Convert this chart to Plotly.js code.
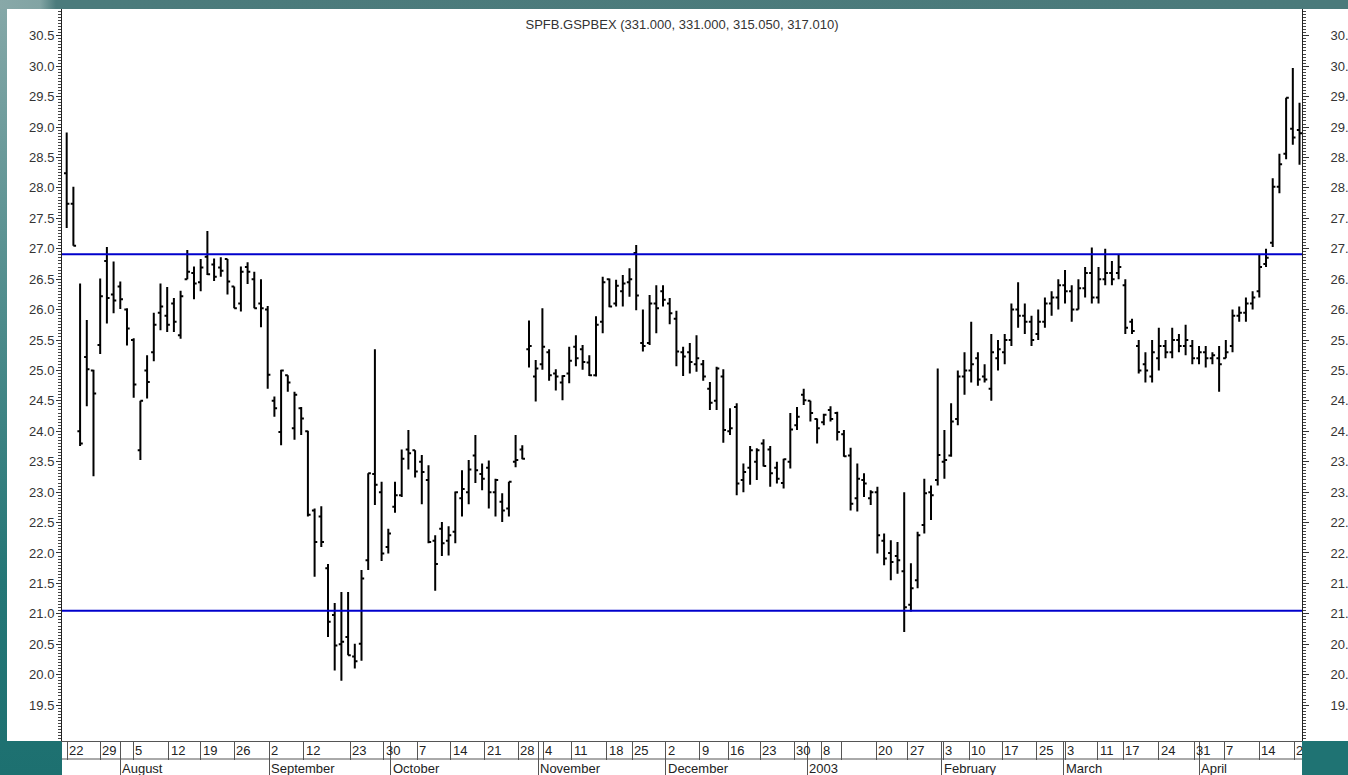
<!DOCTYPE html>
<html>
<head>
<meta charset="utf-8">
<script src="https://cdn.plot.ly/plotly-3.0.1.min.js"></script>
<style>
html, body { margin:0; padding:0; overflow:hidden; width:1348px; height:775px; }
body { position:relative; background: linear-gradient(180deg, #86a8a8 0%, #4f8c8c 40%, #247676 75%, #1d7070 100%); }
#topband { position:absolute; left:0; top:0; width:1348px; height:9px; background: linear-gradient(90deg, #88a8a8 0px, #82a4a4 40px, #4c7b7c 56px, #4b7a7b 100%); }
#white1 { position:absolute; left:7px; top:9px; width:1341px; height:732px; background:#fff; }
#white2 { position:absolute; left:62px; top:741px; width:1240px; height:34px; background:#fff; }
#chart { position:absolute; left:0; top:0; width:1348px; height:775px; }
#cornerR { position:absolute; left:1302px; top:741px; width:46px; height:34px; background:#1f7373; z-index:10; }
</style>
</head>
<body>
<div id="topband"></div>
<div id="white1"></div>
<div id="white2"></div>
<div id="chart"></div>
<div id="cornerR"></div>
<script>
// Trading-day index for each bar
const openV = [28.24,27.74,24.0,25.22,25.0,25.42,26.8,26.25,26.38,26.0,
25.5,23.69,25.0,25.3,25.95,25.9,26.1,25.58,26.5,26.6,
26.45,26.87,26.74,26.69,26.83,26.38,26.1,26.7,26.5,26.1,
26.0,24.5,23.99,24.92,24.05,24.38,24.0,22.7,22.6,21.75,
20.98,20.5,20.62,20.3,20.51,21.88,23.3,23.0,22.1,22.76,
22.95,23.7,23.69,23.5,23.2,22.2,22.4,22.2,22.35,22.9,
23.0,23.6,23.3,23.4,23.0,22.84,22.73,23.5,23.7,25.35,
24.9,25.1,25.3,24.95,24.8,24.95,25.39,25.35,25.13,24.92,
25.8,26.5,26.1,26.3,26.45,26.93,25.45,25.45,26.1,26.3,
26.1,25.85,25.3,25.3,25.1,25.1,24.7,24.5,24.9,24.0,
24.4,23.2,23.4,23.5,23.8,23.7,23.4,23.15,23.5,24.1,
24.6,24.5,24.2,24.15,24.35,24.3,23.95,23.6,22.9,23.2,
22.9,23.0,22.2,22.0,21.95,21.7,21.15,21.55,22.46,23.0,
23.2,23.5,23.6,24.2,24.9,25.0,25.2,24.9,24.7,25.2,
25.3,25.5,26.0,25.9,25.8,25.6,25.8,26.1,26.2,26.4,
26.3,26.0,26.35,26.6,26.2,26.5,26.6,26.6,26.4,25.8,
25.4,25.1,24.9,25.2,25.4,25.3,25.5,25.4,25.4,25.2,
25.3,25.2,25.2,25.2,25.4,25.9,25.95,26.1,26.3,26.75,
27.1,28.02,28.56,28.97,28.95];
const highV = [28.91,28.02,26.43,25.83,25.01,26.51,27.03,26.79,26.46,26.02,
25.53,24.5,25.25,25.95,26.43,26.37,26.19,26.31,26.98,26.71,
26.83,27.29,26.84,26.86,26.83,26.38,26.71,26.78,26.62,26.5,
26.06,24.57,25.01,24.92,24.65,24.4,24.01,22.73,22.77,21.82,
21.18,21.36,21.36,20.51,21.72,23.31,25.35,23.17,22.4,23.17,
23.7,24.02,23.69,23.61,23.44,22.29,22.51,22.44,23.01,23.36,
23.53,23.94,23.47,23.52,23.22,22.98,23.17,23.94,23.77,25.82,
25.17,26.02,25.35,25.02,24.92,25.39,25.58,25.42,25.25,25.89,
26.54,26.51,26.49,26.57,26.68,27.06,26.0,26.24,26.4,26.4,
26.19,25.98,25.39,25.45,25.58,25.17,24.81,25.06,25.02,24.38,
24.46,23.47,23.76,23.72,23.87,23.76,23.5,23.55,24.3,24.4,
24.7,24.5,24.21,24.29,24.41,24.32,24.02,23.73,23.47,23.31,
23.03,23.09,22.32,22.21,22.18,23.0,21.83,22.35,23.22,23.11,
25.03,24.02,24.46,25.0,25.3,25.8,25.3,25.1,25.6,25.5,
25.6,26.1,26.45,26.1,25.9,26.0,26.2,26.3,26.5,26.65,
26.4,26.5,26.7,27.02,26.7,27.0,26.8,26.9,26.5,25.85,
25.5,25.3,25.5,25.7,25.5,25.7,25.6,25.75,25.5,25.4,
25.4,25.3,25.4,25.5,26.0,26.05,26.2,26.3,26.9,27.0,
28.16,28.56,29.48,29.97,29.4];
const lowV = [27.34,27.05,23.76,24.41,23.26,25.27,25.77,25.94,26.01,25.41,
24.55,23.53,24.54,25.15,25.66,25.63,25.63,25.52,26.5,26.17,
26.3,26.57,26.47,26.54,26.25,26.02,25.97,26.42,26.02,25.71,
24.7,24.24,23.77,24.65,23.86,23.94,22.6,21.61,22.1,20.62,
20.07,19.9,20.32,20.1,20.23,21.72,22.79,21.87,21.99,22.66,
22.92,23.37,23.24,22.8,22.16,21.38,21.95,21.96,22.16,22.6,
22.8,23.15,23.03,22.73,22.6,22.51,22.6,23.41,23.54,25.05,
24.49,25.01,24.83,24.67,24.51,24.79,25.07,25.01,24.91,24.9,
25.61,26.04,26.05,26.05,26.21,25.99,25.31,25.42,25.61,26.05,
25.76,25.07,24.91,24.95,24.98,24.83,24.35,24.35,23.81,23.94,
22.95,23.0,23.12,23.2,23.42,23.09,23.14,23.06,23.39,24.02,
24.43,24.16,23.8,24.1,24.16,23.85,23.58,22.7,22.68,22.92,
22.79,21.99,21.8,21.55,21.66,20.7,21.04,21.42,22.32,22.54,
23.11,23.22,23.58,24.1,24.6,24.8,24.75,24.8,24.5,25.0,
25.1,25.4,25.7,25.6,25.4,25.5,25.7,25.9,26.0,26.1,
25.8,26.0,26.2,26.1,26.1,26.4,26.4,26.5,25.6,25.6,
24.95,24.8,24.8,25.0,25.2,25.2,25.3,25.25,25.1,25.1,
25.05,25.1,24.65,25.2,25.3,25.8,25.8,26.0,26.2,26.7,
27.03,27.91,28.47,28.71,28.38];
const closeV = [27.74,27.05,23.8,25.02,24.62,26.22,26.19,26.15,26.17,25.69,
24.77,24.5,24.81,25.75,26.05,25.75,25.8,26.22,26.62,26.43,
26.69,26.58,26.54,26.64,26.46,26.02,26.62,26.62,26.02,26.02,
24.93,24.38,25.0,24.8,24.6,24.21,22.63,22.18,22.18,20.87,
20.48,20.54,20.32,20.22,21.58,23.31,23.12,21.99,22.32,22.95,
23.55,23.64,23.34,23.33,22.18,21.82,22.16,22.29,23.0,23.05,
23.37,23.36,23.22,23.0,23.2,22.7,23.17,23.53,23.55,25.4,
25.03,25.39,24.92,24.9,24.91,25.16,25.2,25.14,24.92,25.75,
26.45,26.05,26.39,26.43,26.5,26.23,25.4,26.1,26.02,26.16,
25.94,25.31,25.23,25.14,25.2,24.9,24.47,25.03,24.02,24.05,
23.14,23.33,23.69,23.69,23.43,23.31,23.22,23.54,24.03,24.24,
24.51,24.3,24.05,24.27,24.2,23.99,23.59,22.81,23.22,23.14,
23.0,22.29,21.91,21.85,21.88,21.11,21.42,22.29,22.98,22.95,
23.61,23.53,24.16,24.9,25.0,25.1,24.85,24.85,25.3,25.35,
25.5,26.0,25.9,25.8,25.5,25.8,26.1,26.2,26.4,26.3,
26.0,26.35,26.6,26.2,26.5,26.6,26.5,26.7,25.7,25.65,
25.0,25.0,25.3,25.4,25.3,25.5,25.4,25.5,25.2,25.3,
25.2,25.25,25.1,25.3,25.9,25.95,26.1,26.2,26.7,26.85,
28.02,28.39,29.48,28.83,28.9];
const barIndex = openV.map((_, i) => i);

// Horizontal support / resistance levels
const levels = [26.91, 21.05];

// Price axis labels
const yTicks = [19.5,20.0,20.5,21.0,21.5,22.0,22.5,23.0,23.5,24.0,24.5,25.0,25.5,26.0,26.5,27.0,27.5,28.0,28.5,29.0,29.5,30.0,30.5];

// Bottom axis: day separators (bar index) and labels
const daySep = [0.1,5.0,9.9,15.2,20.0,25.0,30.2,35.4,42.3,47.3,52.3,57.3,62.4,67.4,71.1,75.4,80.6,84.4,89.4,94.5,98.7,103.5,108.6,112.6,115.6,120.8,125.5,130.8,134.7,139.6,144.8,149.0,153.9,157.7,163.0,168.3,172.8,178.0,183.2];
const dayLabels = ["22","29","5","12","19","26","2","12","23","30","7","14","21","28","4","11","18","25","2","9","16","23","30","8","","20","27","3","10","17","25","3","11","17","24","31","7","14","21"];
const monthSep = [8.0,30.2,48.4,70.4,89.4,110.5,130.6,148.8,169.0];
const monthLabels = ["August","September","October","November","December","2003","February","March","April"];

const titleText = "SPFB.GSPBEX (331.000, 331.000, 315.050, 317.010)";
const FONT = "Liberation Sans, Arial, sans-serif";
const xRange = [-0.7, 184.37];
const yRange = [18.91, 30.94];
const plotH = 732;

const traces = [
  {
    type: 'ohlc', x: barIndex, open: openV, high: highV, low: lowV, close: closeV,
    increasing: {line: {color: '#000', width: 2}},
    decreasing: {line: {color: '#000', width: 2}},
    tickwidth: 0.4, hoverinfo: 'skip', showlegend: false
  },
  {
    type: 'scatter', x: [0], y: [25], xaxis: 'x2', yaxis: 'y2', mode: 'markers',
    marker: {opacity: 0}, hoverinfo: 'skip', showlegend: false
  }
];

const yCommon = {
  range: yRange, tickmode: 'array', tickvals: yTicks, ticktext: yTicks.map(v => v.toFixed(1)),
  ticks: 'outside', ticklen: 5, tickcolor: '#333', tickwidth: 1,
  showline: true, linecolor: '#222', linewidth: 1,
  showgrid: false, zeroline: false, fixedrange: true,
  tickfont: {family: FONT, size: 13, color: '#333'},
  minor: {tick0: 0, dtick: 0.05, ticks: 'outside', ticklen: 3, tickcolor: '#444', tickwidth: 1, showgrid: false}
};

const annotations = [];
daySep.forEach((v, i) => {
  if (dayLabels[i] === "") return;
  annotations.push({
    x: v, xref: 'x', y: 0, yref: 'paper', xanchor: 'left', yanchor: 'top',
    xshift: 0, yshift: 0, text: dayLabels[i], showarrow: false,
    font: {family: FONT, size: 13, color: '#222'}
  });
});
monthSep.forEach((v, i) => {
  annotations.push({
    x: v, xref: 'x', y: 0, yref: 'paper', xanchor: 'left', yanchor: 'top',
    xshift: 0, yshift: -18, text: monthLabels[i], showarrow: false,
    font: {family: FONT, size: 13, color: '#222'}
  });
});

const shapes = levels.map(l => ({
  type: 'line', xref: 'paper', x0: 0, x1: 1, yref: 'y', y0: l, y1: l,
  line: {color: '#0000cc', width: 2}, layer: 'above'
}));
shapes.push({
  type: 'line', xref: 'paper', x0: 0, x1: 1, yref: 'paper', y0: -18 / plotH, y1: -18 / plotH,
  line: {color: '#555', width: 1}
});

const layout = {
  width: 1348, height: 775,
  margin: {l: 62, r: 46, t: 9, b: 34, pad: 0},
  paper_bgcolor: 'rgba(0,0,0,0)', plot_bgcolor: '#fff',
  showlegend: false,
  title: {
    text: titleText, x: 0.5, xref: 'paper', xanchor: 'center',
    y: 1 - 24 / 775, yref: 'container', yanchor: 'middle',
    font: {family: FONT, size: 13, color: '#333'}
  },
  xaxis: {
    range: xRange, showline: true, linecolor: '#555', linewidth: 1,
    tickmode: 'array', tickvals: daySep, ticks: 'outside', ticklen: 18,
    tickcolor: '#555', tickwidth: 1, showticklabels: false,
    showgrid: false, zeroline: false, fixedrange: true,
    rangeslider: {visible: false}
  },
  xaxis2: {
    overlaying: 'x', anchor: 'y', side: 'bottom', range: xRange,
    tickmode: 'array', tickvals: monthSep, ticks: 'outside', ticklen: 34,
    tickcolor: '#555', tickwidth: 1, showticklabels: false,
    showgrid: false, zeroline: false, showline: false, fixedrange: true
  },
  yaxis: Object.assign({}, yCommon, {side: 'left', anchor: 'x', ticklabelstandoff: -1}),
  yaxis2: Object.assign({}, yCommon, {side: 'right', anchor: 'x', overlaying: 'y', ticklen: 6, ticklabelstandoff: 19}),
  shapes: shapes,
  annotations: annotations
};

Plotly.newPlot('chart', traces, layout, {staticPlot: true, displayModeBar: false});
</script>
</body>
</html>
